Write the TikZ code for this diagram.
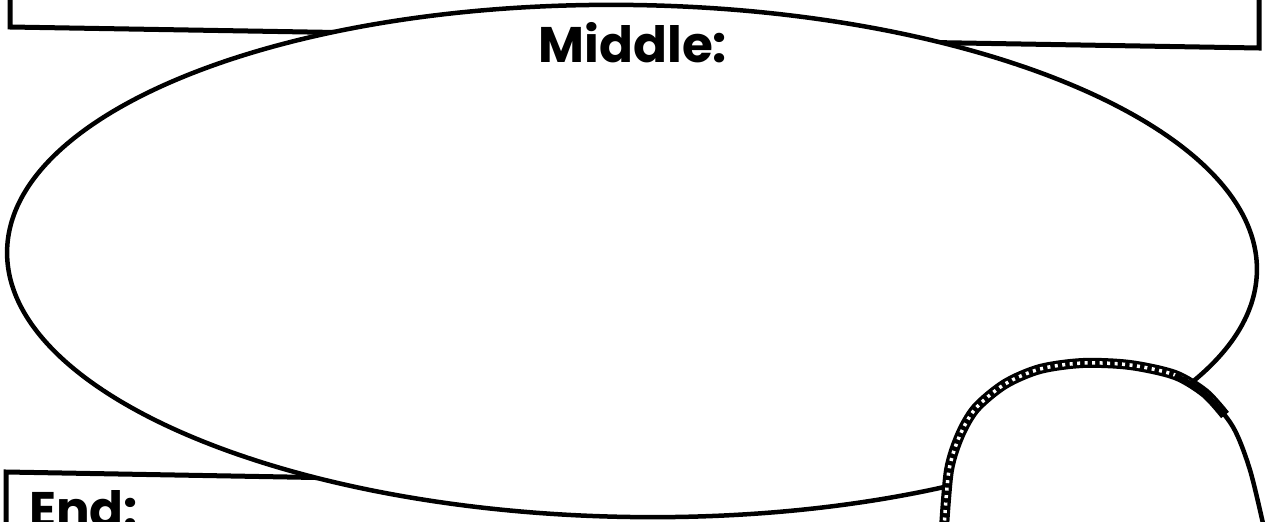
\documentclass[tikz,border=0pt]{standalone}
\usepackage{fontspec}
\newfontfamily\headfont{Poppins}
\usetikzlibrary{shapes.geometric,positioning}

\begin{document}
\begin{tikzpicture}[x=1pt,y=-1pt,
    frame/.style={line width=5pt,line join=miter},
    heading/.style={font=\headfont\bfseries\fontsize{50}{50}\selectfont,inner sep=0pt}]
    % Page size in pixels
    \def\pw{1269}
    \def\ph{522}
    \useasboundingbox (0,0) rectangle (\pw,\ph);
    \clip (0,0) rectangle (\pw,\ph);
    % Box at the top (behind the ellipse)
    \draw[frame] (10,-5) -- (10,27) -- (1259,48) -- (1259,-5);
    % Box at the bottom left
    \draw[frame] (400,479) -- (6,472) -- (6,530);
    % Middle ellipse, tilted a little like the scan
    \node[ellipse,draw,line width=4.5pt,fill=white,minimum width=1250pt,
          minimum height=512pt,rotate=-0.92,inner sep=0pt] (middle) at (632,261) {};
    % Labels
    \node[heading,anchor=base] (midlabel) at (633,62) {Middle:};
    \node[heading,anchor=base west] (endlabel) at (29,527) {End:};
    % Hand at the bottom right: white inside, hatched rim, plain right side
    \fill[white] plot[smooth] coordinates {(944,528) (949,470) (960,435) (976,408)
        (1005,384) (1040,369) (1083,363) (1130,365) (1175,375) (1205,393)
        (1233,427) (1250,470) (1264,528)} -- cycle;
    \draw[line width=10pt] plot[smooth] coordinates {(944,528) (949,470) (960,435)
        (976,408) (1005,384) (1040,369) (1083,363) (1130,365) (1175,375)
        (1205,393) (1225,415)};
    \draw[white,line width=3.5pt,dash pattern=on 3pt off 4.5pt] plot[smooth]
        coordinates {(944,528) (949,470) (960,435) (976,408) (1005,384)
        (1040,369) (1083,363) (1130,365) (1175,375) (1205,393) (1221,410)};
    \draw[line width=4.5pt] plot[smooth] coordinates {(1175,375) (1205,393)
        (1233,427) (1250,470) (1264,528)};
\end{tikzpicture}
\end{document}
